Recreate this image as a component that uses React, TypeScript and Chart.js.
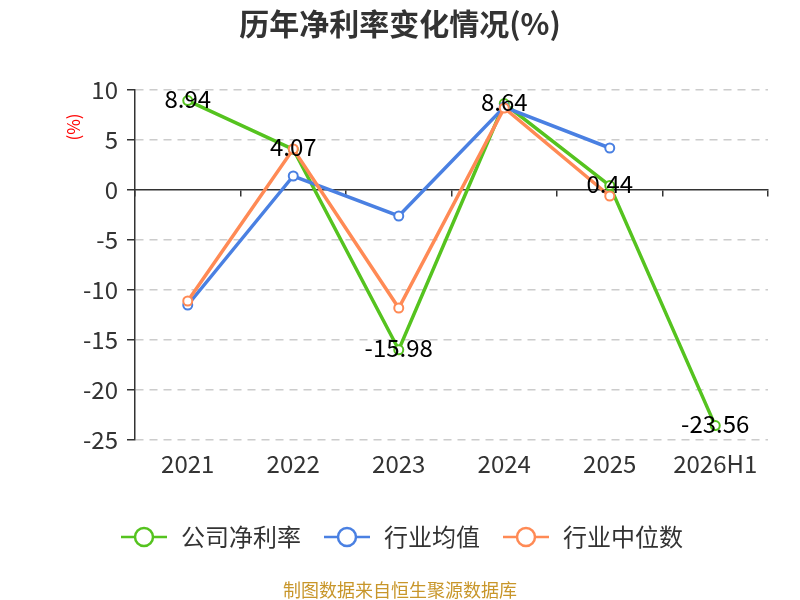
import { useEffect, useRef } from 'react'
import { Chart, registerables } from 'chart.js'

Chart.register(...registerables)

const YEARS = ['2021', '2022', '2023', '2024', '2025', '2026H1']
const COMPANY = [8.94, 4.07, -15.98, 8.64, 0.44, -23.56]
const INDUSTRY_AVG = [-11.5, 1.4, -2.6, 8.3, 4.2, null]
const INDUSTRY_MEDIAN = [-11.1, 4.1, -11.8, 8.2, -0.6, null]
const SERIES_NAMES = ['公司净利率', '行业均值', '行业中位数']
const Y_MIN = -25
const Y_MAX = 10
const Y_STEP = 5

const GREEN = '#55c31f'
const BLUE = '#4a80e2'
const ORANGE = '#ff8a55'
const FONT = "'Noto Sans CJK SC', 'Noto Sans', sans-serif"

// legend marker: a short line with a hollow circle in the middle
function makeIcon(color: string) {
  const c = document.createElement('canvas')
  c.width = 50
  c.height = 22
  const g = c.getContext('2d')!
  g.strokeStyle = color
  g.lineWidth = 2.5
  g.beginPath()
  g.moveTo(2, 11)
  g.lineTo(48, 11)
  g.stroke()
  g.beginPath()
  g.arc(25, 11, 9, 0, Math.PI * 2)
  g.fillStyle = '#fff'
  g.fill()
  g.stroke()
  return c
}

const valueLabels = {
  id: 'valueLabels',
  afterDatasetsDraw(chart: any) {
    const meta = chart.getDatasetMeta(0)
    const ctx = chart.ctx
    ctx.save()
    ctx.font = `24px ${FONT}`
    ctx.fillStyle = '#000'
    ctx.textAlign = 'center'
    ctx.textBaseline = 'middle'
    meta.data.forEach((pt: any, i: number) => {
      ctx.fillText(COMPANY[i].toFixed(2), pt.x, pt.y - 2)
    })
    ctx.restore()
  },
}

export default function App() {
  const chartRef = useRef<HTMLCanvasElement>(null)
  const chartInstanceRef = useRef<Chart | null>(null)

  useEffect(() => {
    if (!chartRef.current) return
    if (chartInstanceRef.current) chartInstanceRef.current.destroy()

    Chart.defaults.font.family = FONT
    const colors = [GREEN, BLUE, ORANGE]
    const icons = colors.map(makeIcon)

    const line = (label: string, data: (number | null)[], color: string, order: number) => ({
      label,
      data,
      borderColor: color,
      backgroundColor: '#fff',
      borderWidth: 3.5,
      pointRadius: 4.5,
      pointBorderWidth: 2,
      pointBackgroundColor: '#fff',
      pointBorderColor: color,
      order,
    })

    chartInstanceRef.current = new Chart(chartRef.current, {
      type: 'line',
      data: {
        labels: YEARS,
        datasets: [
          line(SERIES_NAMES[0], COMPANY, GREEN, 3),
          line(SERIES_NAMES[1], INDUSTRY_AVG, BLUE, 2),
          line(SERIES_NAMES[2], INDUSTRY_MEDIAN, ORANGE, 1),
        ],
      },
      options: {
        responsive: true,
        maintainAspectRatio: false,
        animation: false,
        layout: { padding: { top: 90, right: 32, bottom: 41, left: 34 } },
        plugins: {
          legend: {
            position: 'bottom',
            labels: {
              usePointStyle: true,
              pointStyleWidth: 50,
              padding: 21,
              color: '#333',
              font: { size: 24 },
              generateLabels: (chart: any) =>
                chart.data.datasets.map((ds: any, i: number) => ({
                  text: ds.label,
                  pointStyle: icons[i],
                  fillStyle: '#fff',
                  strokeStyle: colors[i],
                  lineWidth: 0,
                  hidden: false,
                  datasetIndex: i,
                  fontColor: '#333',
                })),
            },
          },
          tooltip: { enabled: false },
        },
        scales: {
          x: {
            type: 'category',
            offset: true,
            grid: { display: false },
            border: { display: false },
            ticks: { color: '#333', font: { size: 24 }, padding: 1 },
            afterFit: (s: any) => {
              s.height = 64
            },
          },
          x2: {
            type: 'category',
            axis: 'x',
            position: { y: 0 },
            offset: true,
            grid: {
              offset: true,
              drawOnChartArea: false,
              drawTicks: true,
              tickLength: 6,
              color: '#333',
              lineWidth: 1.5,
            },
            border: { color: '#333', width: 1.5 },
            ticks: { display: false },
          },
          y: {
            min: Y_MIN,
            max: Y_MAX,
            ticks: { stepSize: Y_STEP, color: '#333', font: { size: 24 }, padding: 9 },
            grid: {
              color: (c: any) => (c.tick && c.tick.value === 0 ? 'rgba(0,0,0,0)' : '#cccccc'),
              lineWidth: 1.5,
              tickLength: 8,
              tickColor: '#333',
              tickWidth: 1.5,
              tickBorderDash: [],
            },
            border: { dash: [8, 6], color: '#333', width: 1.5 },
            afterFit: (s: any) => {
              s.width = 101
            },
          },
        },
      } as any,
      plugins: [valueLabels],
    })

    return () => {
      if (chartInstanceRef.current) {
        chartInstanceRef.current.destroy()
        chartInstanceRef.current = null
      }
    }
  }, [])

  return (
    <div style={{ position: 'absolute', left: 0, top: 0, width: 800, height: 600, background: '#fff', fontFamily: FONT }}>
      <div style={{ position: 'absolute', left: 0, top: 0, width: 800, height: 600 }}>
        <canvas ref={chartRef} />
      </div>
      <div
        style={{
          position: 'absolute', left: 0, top: 5, width: 800, textAlign: 'center',
          fontSize: 30, lineHeight: '34px', fontWeight: 'bold', color: '#333',
        }}
      >
        历年净利率变化情况(%)
      </div>
      <div
        style={{
          position: 'absolute', left: 53, top: 117, width: 40, textAlign: 'center',
          fontSize: 17, lineHeight: '20px', color: '#ff0000', transform: 'rotate(-90deg)',
        }}
      >
        (%)
      </div>
      <div
        style={{
          position: 'absolute', left: 0, top: 578, width: 800, textAlign: 'center',
          fontSize: 18, lineHeight: '22px', color: '#c8962a',
        }}
      >
        制图数据来自恒生聚源数据库
      </div>
    </div>
  )
}
